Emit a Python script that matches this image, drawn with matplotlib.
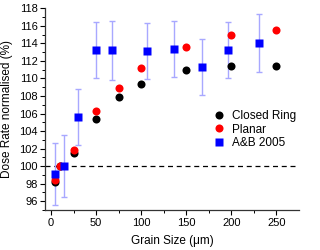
import numpy as np
import matplotlib.pyplot as plt

plt.rcParams['font.family'] = 'Liberation Sans'
plt.rcParams['font.size'] = 8

# Closed Ring / Planar: grain size (um) vs normalised dose rate (%)
size_model = [5, 10, 25, 50, 75, 100, 150, 200, 250]
closed_ring = [98.2, 100.0, 101.5, 105.4, 107.9, 109.4, 111.0, 111.4, 111.4]
planar = [98.4, 100.0, 101.8, 106.3, 108.9, 111.2, 113.6, 114.9, 115.5]

# A&B 2005 with error bars
size_ab = [4, 14, 30, 50, 68, 107, 137, 168, 196, 231]
ab2005 = [99.1, 100.0, 105.6, 113.2, 113.2, 113.1, 113.4, 111.3, 113.2, 114.0]
ab_err = [3.5, 3.5, 3.2, 3.2, 3.4, 3.2, 3.2, 3.2, 3.2, 3.3]

fig = plt.figure(figsize=(3.2, 2.5), dpi=100)
ax = fig.add_axes([0.141, 0.16, 0.793, 0.807])

ax.axhline(100, color='black', ls=(0, (4, 3)), lw=0.9, zorder=1)

ax.errorbar(size_ab, ab2005, yerr=ab_err, fmt='none', ecolor='#a8a8ff',
            elinewidth=1.0, capsize=2.5, capthick=1.0, zorder=2)
ax.plot(size_model, closed_ring, 'o', color='black', ms=5.8, mec='none',
        label='Closed Ring', zorder=3)
ax.plot(size_model, planar, 'o', color='red', ms=5.8, mec='none',
        label='Planar', zorder=4)
ax.plot(size_ab, ab2005, 's', color='#0000ff', ms=5.2, mec='none',
        label='A&B 2005', zorder=5)

ax.set_xlim(-6.5, 275)
ax.set_ylim(95, 118)
ax.set_xticks([0, 50, 100, 150, 200, 250])
ax.set_xticks(np.arange(25, 275, 50), minor=True)
ax.set_yticks(np.arange(96, 119, 2))
ax.set_yticks(np.arange(95, 118.5, 1), minor=True)

for s in ['top', 'right']:
    ax.spines[s].set_visible(False)
for s in ['left', 'bottom']:
    ax.spines[s].set_linewidth(0.9)
    ax.spines[s].set_color('#333333')
ax.tick_params(which='major', direction='out', length=3.5, width=0.8,
               labelsize=8, pad=2)
ax.tick_params(which='minor', direction='out', length=2, width=0.7)

ax.set_xlabel('Grain Size (\u03bcm)', fontsize=8.5, labelpad=5)
ax.set_ylabel('Dose Rate normalised (%)', fontsize=8.5, labelpad=4)

ax.legend(loc='lower left', bbox_to_anchor=(0.63, 0.26), frameon=False,
          fontsize=8.5, handletextpad=0.6, labelspacing=0.15,
          handlelength=1.0, borderpad=0.2)

fig.savefig('out.png', dpi=100)
